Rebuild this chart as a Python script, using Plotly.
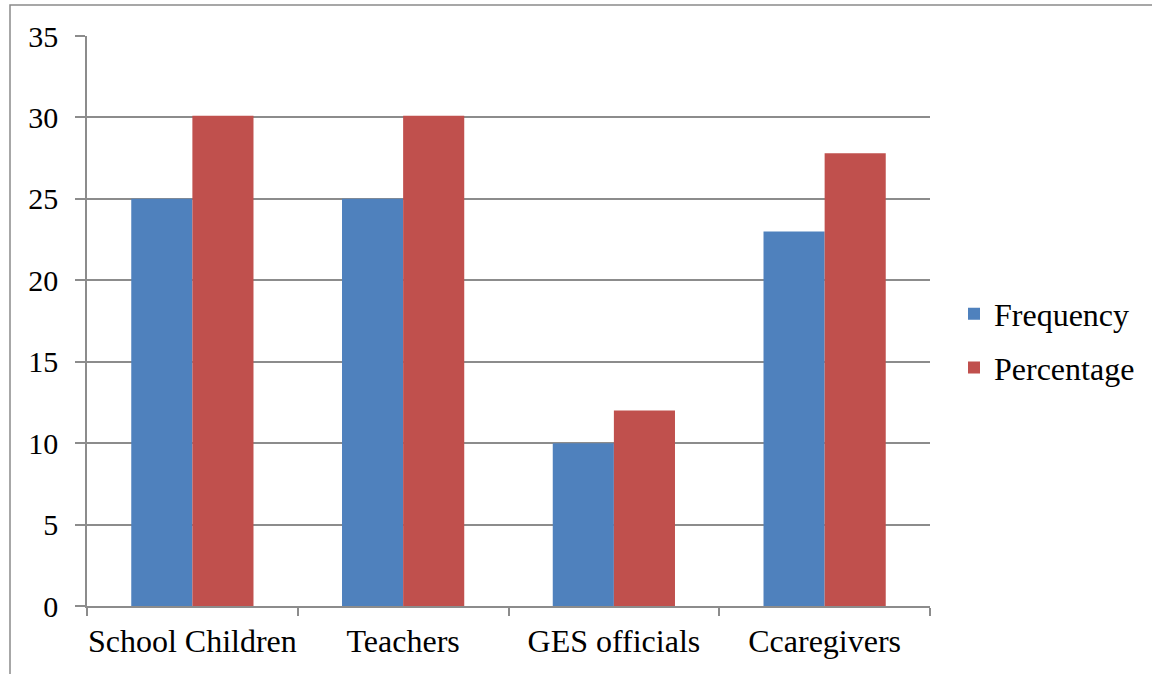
import plotly.graph_objects as go

categories = ["School Children", "Teachers", "GES officials", "Ccaregivers"]
frequency = [25, 25, 10, 23]
percentage = [30.1, 30.1, 12, 27.8]
y_ticks = [0, 5, 10, 15, 20, 25, 30, 35]

FONT = "'Liberation Serif', 'Times New Roman', serif"
GRID = "#8c8c8c"

fig = go.Figure()
fig.add_bar(x=categories, y=frequency, name="Frequency", marker_color="#4F81BD",
            marker_line_width=0, legendgroup="f")
fig.add_bar(x=categories, y=percentage, name="Percentage", marker_color="#C0504D",
            marker_line_width=0, legendgroup="p")

L, R, T, B = 87, 222, 36, 68
W, H = 1152, 674
pw, ph = W - L - R, H - T - B

def px2paper_x(px):
    return (px - L) / pw

def px2paper_y(py):
    return (H - B - py) / ph

fig.update_layout(
    width=W, height=H,
    margin=dict(l=L, r=R, t=T, b=B, pad=0, autoexpand=False),
    paper_bgcolor="white", plot_bgcolor="white",
    barmode="group", bargap=0.42, bargroupgap=0,
    font=dict(family=FONT, size=32, color="black"),
    showlegend=True,
    legend=dict(x=px2paper_x(954), y=px2paper_y(341), xanchor="left", yanchor="middle",
                font=dict(family=FONT, size=32, color="black"),
                itemwidth=30, traceorder="grouped", tracegroupgap=9,
                bgcolor="rgba(0,0,0,0)"),
    xaxis=dict(showgrid=False, showline=True, linecolor=GRID, linewidth=1.5,
               ticks="outside", tickson="boundaries", ticklen=8, tickcolor=GRID,
               tickwidth=1.5, tickfont=dict(family=FONT, size=32, color="black"),
               tickangle=0, automargin=False, ticklabelstandoff=6),
    yaxis=dict(range=[0, 35], tickvals=y_ticks, showgrid=True, gridcolor=GRID, gridwidth=1.5,
               showline=True, linecolor=GRID, linewidth=1.5, zeroline=False,
               ticks="outside", ticklen=10, tickcolor=GRID, tickwidth=1.5,
               tickfont=dict(family=FONT, size=30, color="black"),
               automargin=False, ticklabelstandoff=11),
    shapes=[dict(type="rect", xref="paper", yref="paper",
                 x0=px2paper_x(10), x1=px2paper_x(1200),
                 y0=px2paper_y(720), y1=px2paper_y(5),
                 line=dict(color="#8a8a8a", width=1.5), fillcolor="rgba(0,0,0,0)",
                 layer="below")],
)

fig.write_html("out.html")
